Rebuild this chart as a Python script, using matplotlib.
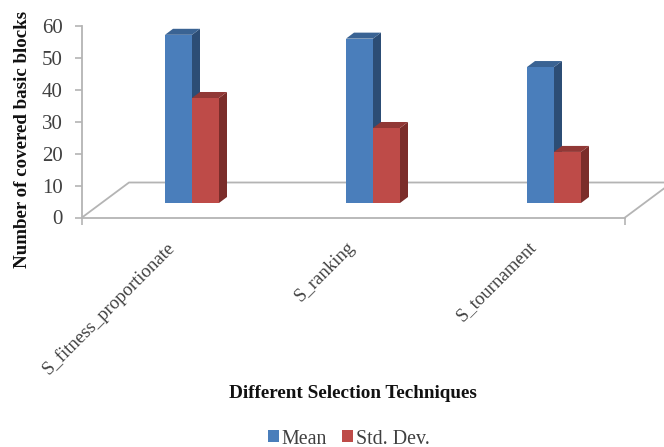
import matplotlib
matplotlib.use("Agg")
import matplotlib.pyplot as plt
from matplotlib.patches import Polygon
from matplotlib.transforms import ScaledTranslation

plt.rcParams['font.family'] = ['Liberation Serif', 'DejaVu Serif']

techniques = ['S_fitness_proportionate', 'S_ranking', 'S_tournament']
mean_vals = [52.7, 51.5, 42.6]
std_vals = [32.9, 23.5, 16.0]
y_ticks = [0, 10, 20, 30, 40, 50, 60]

W, H = 664, 447
fig = plt.figure(figsize=(W / 100, H / 100), dpi=100)

# axes box in pixels, the 3d look is faked with polygons
left, right, top, bottom = 82, 625, 26, 217.5
ax = fig.add_axes([left / W, 1 - bottom / H, (right - left) / W, (bottom - top) / H])

px_x = 1 / 181.0  # one category is 181 px
px_y = 60 / (bottom - top)
ax.set_xlim((left - 192) * px_x, (right - 192) * px_x)
ax.set_ylim(0, 60)

bar_w = 27 * px_x
base = 14.5 * px_y  # bars stand on the floor, above the axis
dx, dy = 8 * px_x, 6 * px_y

blue, blue_top, blue_side = '#4A7EBB', '#3A6393', '#2C4D75'
red, red_top, red_side = '#BE4B48', '#913836', '#7B2D2A'
grey = '#B4B4B4'

# floor
x0, x1 = ax.get_xlim()
fdx, fdy = 47 * px_x, 35 * px_y
ax.plot([x0, x0 + fdx, x1 + fdx], [0, fdy, fdy], color=grey, lw=1.3, clip_on=False, zorder=1)
ax.plot([x1, x1 + fdx], [0, fdy], color=grey, lw=1.3, clip_on=False, zorder=1)


def bar3d(xc, val, topc, side):
    xl = xc - bar_w / 2
    xr = xc + bar_w / 2
    yt = base + val
    ax.add_patch(Polygon([(xr, base), (xr + dx, base + dy), (xr + dx, yt + dy), (xr, yt)],
                         facecolor=side, edgecolor='none', zorder=3))
    ax.add_patch(Polygon([(xl, yt), (xl + dx, yt + dy), (xr + dx, yt + dy), (xr, yt)],
                         facecolor=topc, edgecolor='none', zorder=3))


pos = list(range(len(techniques)))
for i in pos:
    bar3d(i - bar_w / 2, mean_vals[i], blue_top, blue_side)
b1 = ax.bar([p - bar_w / 2 for p in pos], mean_vals, bar_w, bottom=base, color=blue, zorder=4, label='Mean')
for i in pos:
    bar3d(i + bar_w / 2, std_vals[i], red_top, red_side)
b2 = ax.bar([p + bar_w / 2 for p in pos], std_vals, bar_w, bottom=base, color=red, zorder=5, label='Std. Dev.')

for s in ['top', 'right']:
    ax.spines[s].set_visible(False)
for s in ['left', 'bottom']:
    ax.spines[s].set_color(grey)
    ax.spines[s].set_linewidth(1.3)

ax.set_yticks(y_ticks)
ax.tick_params(axis='y', labelsize=15, colors=grey, labelcolor='#404040', length=5, width=1.2, pad=9)
ax.set_xticks(pos)
ax.set_xticklabels(techniques, rotation=45, ha='right', rotation_mode='anchor', fontsize=13.5, color='#404040')
ax.tick_params(axis='x', length=0, pad=15)
ax.set_xticks([x0, x1], minor=True)
ax.tick_params(axis='x', which='minor', length=5, width=1.2, color=grey)

# labels sit left of the category centre in the reference
shift = ScaledTranslation(-19 / 72, 0, fig.dpi_scale_trans)
for lab in ax.get_xticklabels():
    lab.set_transform(lab.get_transform() + shift)

fig.text(23 / W, 1 - 139 / H, 'Number of covered basic blocks', rotation=90, ha='center', va='center',
         fontsize=13.6, fontweight='bold', color='#111111')
fig.text(353 / W, 1 - 394 / H, 'Different Selection Techniques', ha='center', va='center',
         fontsize=13.8, fontweight='bold', color='#111111')

fig.legend(handles=[b1, b2], loc='center', bbox_to_anchor=(349 / W, 1 - 439 / H), ncol=2, frameon=False,
           fontsize=14.4, handlelength=0.55, handleheight=0.55, handletextpad=0.15, columnspacing=0.75,
           labelcolor='#404040')

fig.savefig('out.png', dpi=100)
